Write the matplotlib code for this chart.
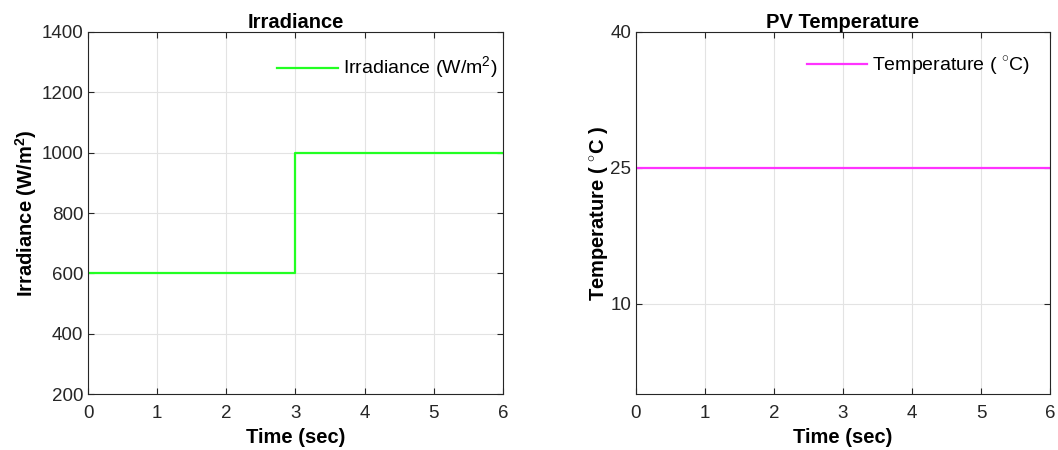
import matplotlib
matplotlib.use("Agg")
import matplotlib.pyplot as plt

plt.rcParams['font.family'] = ['Liberation Sans', 'DejaVu Sans']
plt.rcParams['mathtext.fontset'] = 'custom'
plt.rcParams['mathtext.rm'] = 'Liberation Sans'
plt.rcParams['mathtext.bf'] = 'Liberation Sans:bold'

# data
time_irr = [0, 3, 3, 6]
irradiance = [600, 600, 1000, 1000]
time_temp = [0, 6]
temperature = [25, 25]

x_ticks = [0, 1, 2, 3, 4, 5, 6]
irr_ticks = [200, 400, 600, 800, 1000, 1200, 1400]
temp_ticks = [10, 25, 40]

fig = plt.figure(figsize=(10.58, 4.5), dpi=100)
ax1 = fig.add_axes([0.0832, 0.1244, 0.3922, 0.8045])
ax2 = fig.add_axes([0.6011, 0.1244, 0.3913, 0.8045])

tick_col = '#262626'


def style(ax):
    ax.grid(True, color='#e3e3e3', linewidth=0.8)
    ax.set_axisbelow(True)
    ax.tick_params(direction='in', length=4, labelsize=13.5, colors=tick_col,
                   top=True, right=True, labeltop=False, labelright=False)
    ax.tick_params(axis='x', pad=8)
    for s in ax.spines.values():
        s.set_color('#262626')
        s.set_linewidth(0.8)
    ax.set_xlim(0, 6)
    ax.set_xticks(x_ticks)
    ax.set_xlabel('Time (sec)', fontsize=14.5, fontweight='bold', labelpad=4)


ax1.plot(time_irr, irradiance, color='#22ff22', linewidth=1.6,
         label='Irradiance (W/m$^2$)')
style(ax1)
ax1.set_ylim(200, 1400)
ax1.set_yticks(irr_ticks)
ax1.set_ylabel('Irradiance (W/m$^\\mathbf{2}$)', fontsize=14.5, fontweight='bold',
               labelpad=2)
ax1.set_title('Irradiance', fontsize=14.5, fontweight='bold', pad=3)
ax1.legend(loc='center right', frameon=False, fontsize=14, handlelength=3.1,
           handletextpad=0.25, borderpad=0, borderaxespad=0,
           bbox_to_anchor=(0.9855, 0.90))

ax2.plot(time_temp, temperature, color='#ff33ff', linewidth=1.6,
         label='Temperature ( $^{\\circ}$C)')
style(ax2)
ax2.set_ylim(0, 40)
ax2.set_yticks(temp_ticks)
ax2.set_ylabel('Temperature ( $^{\\circ}$C )', fontsize=14.5, fontweight='bold',
               labelpad=0)
ax2.set_title('PV Temperature', fontsize=14.5, fontweight='bold', pad=3)
ax2.legend(loc='center right', frameon=False, fontsize=14, handlelength=3.1,
           handletextpad=0.25, borderpad=0, borderaxespad=0,
           bbox_to_anchor=(0.952, 0.906))

fig.savefig('out.png', dpi=100)
